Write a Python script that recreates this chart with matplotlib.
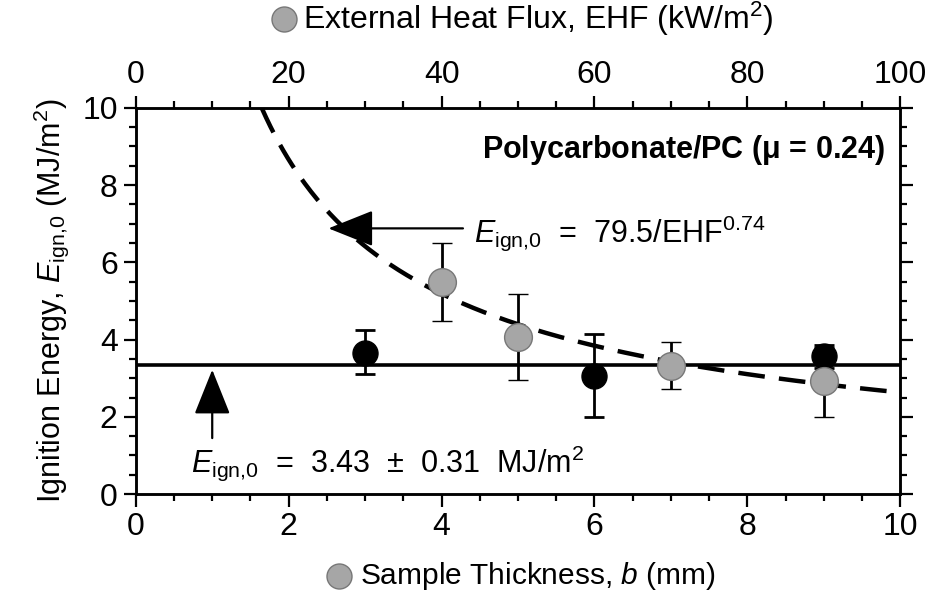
import matplotlib
matplotlib.use('Agg')
import matplotlib.pyplot as plt
import numpy as np
from matplotlib.lines import Line2D
from matplotlib.ticker import MultipleLocator

plt.rcParams['font.family'] = ['Liberation Sans', 'DejaVu Sans']
plt.rcParams['mathtext.fontset'] = 'custom'
plt.rcParams['mathtext.rm'] = 'Liberation Sans'
plt.rcParams['mathtext.it'] = 'Liberation Sans:italic'
plt.rcParams['mathtext.bf'] = 'Liberation Sans:bold'

# sample thickness data (bottom axis)
thick = [3, 6, 9]
e_thick = [3.65, 3.05, 3.57]
err_thick_lo = [0.55, 1.05, 0.3]
err_thick_hi = [0.6, 1.1, 0.3]

# external heat flux data (top axis)
ehf = [40, 50, 70, 90]
e_ehf = [5.49, 4.06, 3.31, 2.92]
err_ehf_lo = [1.0, 1.1, 0.6, 0.92]
err_ehf_hi = [1.0, 1.12, 0.62, 0.9]

e_mean = 3.35
fit_a, fit_b = 79.5, 0.74

fig = plt.figure(figsize=(9.3, 5.96), dpi=100)
ax = fig.add_axes([0.146, 0.171, 0.822, 0.648])
ax2 = ax.twiny()

ax.set_xlim(0, 10)
ax.set_ylim(0, 10)
ax2.set_xlim(0, 100)

# horizontal mean line
ax.axhline(e_mean, color='black', lw=2.6, zorder=2)

# power-law fit
xf = np.linspace(16.5, 100, 300)
ax2.plot(xf, fit_a / xf**fit_b, color='black', lw=3.2, dashes=(6, 3.2), zorder=2)

ax.errorbar(thick, e_thick, yerr=[err_thick_lo, err_thick_hi], fmt='o', color='black',
            ms=18, mfc='black', mec='black', ecolor='black', elinewidth=2,
            capsize=7.5, capthick=2, zorder=3)
ax2.errorbar(ehf, e_ehf, yerr=[err_ehf_lo, err_ehf_hi], fmt='o', color='black',
             ms=20, mfc='#a6a6a6', mec='#777777', mew=1, ecolor='black', elinewidth=2,
             capsize=7.5, capthick=2, zorder=4)

# annotations
arrow = dict(arrowstyle='-|>,head_length=0.75,head_width=0.3', mutation_scale=38,
             color='black', lw=1.6, shrinkA=0, shrinkB=0)
ax.annotate('', xy=(2.52, 6.88), xytext=(4.28, 6.88), arrowprops=arrow)
ax.text(4.43, 6.76, r'$E_{\rm ign{,}0}$  =  79.5/EHF$^{0.74}$', fontsize=22, va='center', ha='left')

ax.annotate('', xy=(1.0, 3.22), xytext=(1.0, 1.45), arrowprops=arrow)
ax.text(0.72, 0.8, r'$E_{\rm ign{,}0}$  =  3.43  $\pm$  0.31  MJ/m$^2$', fontsize=22,
        va='center', ha='left')

ax.text(9.8, 8.9, r'Polycarbonate/PC ($\mathbf{\mu}$ = 0.24)', fontsize=22, fontweight='bold',
        va='center', ha='right')

# ticks
for a in (ax, ax2):
    a.tick_params(which='major', direction='out', length=9, width=1.6, labelsize=23, pad=4)
    a.tick_params(which='minor', direction='out', length=5, width=1.6)
ax.xaxis.set_major_locator(MultipleLocator(2))
ax.xaxis.set_minor_locator(MultipleLocator(0.5))
ax.yaxis.set_major_locator(MultipleLocator(2))
ax.yaxis.set_minor_locator(MultipleLocator(0.5))
ax2.xaxis.set_major_locator(MultipleLocator(20))
ax2.xaxis.set_minor_locator(MultipleLocator(5))
ax.tick_params(axis='y', which='both', right=True)
for s in ax.spines.values():
    s.set_linewidth(1.8)
for s in ax2.spines.values():
    s.set_linewidth(1.8)

ax.set_ylabel(r'Ignition Energy, $E_{\rm ign{,}0}$ (MJ/m$^2$)', fontsize=22, labelpad=8)

# axis titles with marker symbols
fig.text(0.326, 0.968, r'External Heat Flux, EHF (kW/m$^2$)', fontsize=23, va='center', ha='left')
fig.add_artist(Line2D([0.305], [0.968], marker='o', ms=18, mfc='#a6a6a6', mec='#777777',
                      transform=fig.transFigure))
fig.text(0.387, 0.034, r'Sample Thickness, $b$ (mm)', fontsize=21.5, va='center', ha='left')
fig.add_artist(Line2D([0.364], [0.034], marker='o', ms=18, mfc='#a6a6a6', mec='#777777',
                      transform=fig.transFigure))

fig.savefig('out.png', dpi=100)
